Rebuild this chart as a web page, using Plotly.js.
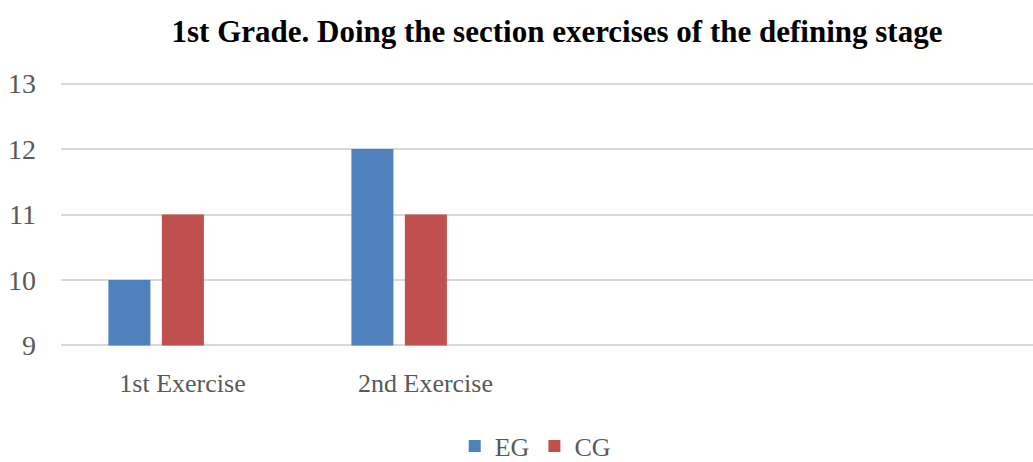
<!DOCTYPE html>
<html>
<head>
<meta charset="utf-8">
<script src="https://cdn.plot.ly/plotly-3.0.1.min.js"></script>
<style>html,body{margin:0;padding:0;background:#fff;}#chart{width:1033px;height:462px;}</style>
</head>
<body>
<div id="chart"></div>
<script>
const categories = ["1st Exercise", "2nd Exercise"];
const seriesNames = ["EG", "CG"];
const egValues = [10, 12];
const cgValues = [11, 11];
const yTicks = [9, 10, 11, 12, 13];
const chartTitle = "1st Grade. Doing the section exercises of the defining stage";

const serif = "'Liberation Serif', 'Times New Roman', serif";
const textGray = "#595959";
const axisFloor = yTicks[0];

// bars start at the axis floor so that their tops land on the values
const traces = [
  {type: "bar", name: seriesNames[0], x: categories, y: egValues.map(v => v - axisFloor),
   base: axisFloor, marker: {color: "#4f81bd"}, width: 0.173, offset: -0.305},
  {type: "bar", name: seriesNames[1], x: categories, y: cgValues.map(v => v - axisFloor),
   base: axisFloor, marker: {color: "#c0504d"}, width: 0.173, offset: -0.085}
];

const layout = {
  width: 1033, height: 462,
  margin: {l: 61, r: 0, t: 81, b: 114},
  paper_bgcolor: "#fff", plot_bgcolor: "#fff",
  barmode: "overlay",
  title: {text: "<b>" + chartTitle + "</b>", font: {family: serif, size: 31, color: "#000"},
          x: 557/1033, xanchor: "center", xref: "container", y: 1 - 31/462, yanchor: "middle"},
  xaxis: {type: "category", categoryorder: "array", categoryarray: categories,
          range: [-0.5, 3.5], showgrid: false, zeroline: false, showline: false,
          ticks: "", ticklabelstandoff: 17,
          tickfont: {family: serif, size: 26, color: textGray}, fixedrange: true},
  yaxis: {range: [8.96, 13.04], tickvals: yTicks, ticktext: yTicks.map(String),
          showgrid: true, gridcolor: "#d9d9d9", gridwidth: 2, zeroline: false,
          showline: false, ticks: "", ticklabelstandoff: 24,
          tickfont: {family: serif, size: 28, color: textGray}, fixedrange: true},
  showlegend: true,
  legend: {orientation: "h", x: 504/1033, xanchor: "center", xref: "paper",
           y: 16/462, yref: "container", yanchor: "middle",
           font: {family: serif, size: 26, color: textGray},
           itemwidth: 30, tracegroupgap: 0, traceorder: "normal"}
};

Plotly.newPlot("chart", traces, layout, {displayModeBar: false, staticPlot: true});
</script>
</body>
</html>
